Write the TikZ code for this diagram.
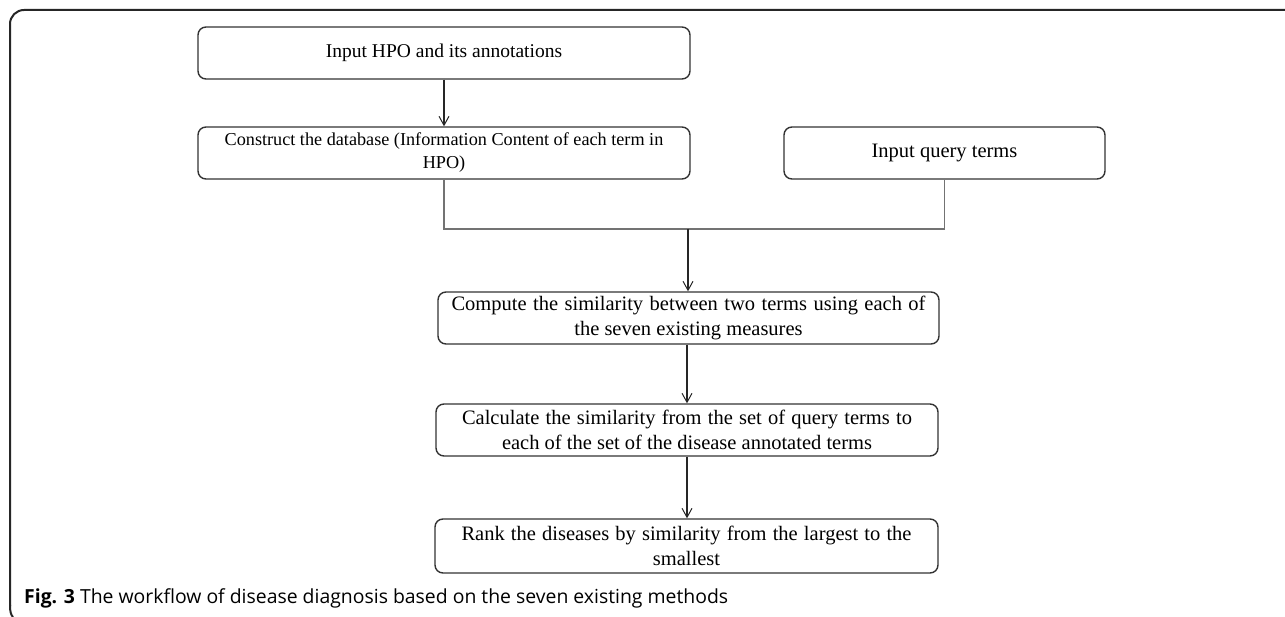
\documentclass[tikz,border=0pt]{standalone}
\usepackage{fontspec}
\setmainfont{Liberation Serif}
\newfontfamily\capfont{Open Sans}
\usetikzlibrary{arrows.meta,calc}
\begin{document}
\begin{tikzpicture}[x=1pt,y=-1pt,
  box/.style={draw=black!80,line width=1.4pt,rounded corners=8pt,align=center,
    inner sep=0pt,font=\fontsize{20.5}{25}\selectfont},
  arr/.style={draw=black!85,line width=1.2pt,-{Straight Barb[length=9pt,width=10pt,line width=1pt]}},
  link/.style={draw=black!55,line width=1.2pt}]
\useasboundingbox (0,0) rectangle (1285,617);
% outer frame
\draw[line width=2pt,black!85,rounded corners=14pt] (1285,10) -- (10,10) -- (10,606);
\draw[line width=2pt,black!85] (10,605) .. controls (10,612) and (11,615) .. (13,617);
% boxes
\node[box,minimum width=492pt,minimum height=52pt,font=\fontsize{19.5}{24}\selectfont] (b1) at (444,53) {Input HPO and its annotations};
\node[box,minimum width=492pt,minimum height=52pt,font=\fontsize{18.2}{23}\selectfont] (b2) at (444,153) {Construct the database (Information Content of each term in\\HPO)};
\node[box,minimum width=321pt,minimum height=52pt] (b3) at (944.5,153) {Input query terms};
\node[box,minimum width=501pt,minimum height=52pt] (b4) at (688.5,318) {\makebox[474pt][s]{Compute the similarity between two terms using each of}\\the seven existing measures};
\node[box,minimum width=502pt,minimum height=52pt] (b5) at (687,430) {\makebox[450pt][s]{Calculate the similarity from the set of query terms to}\\each of the set of the disease annotated terms};
\node[box,minimum width=503pt,minimum height=54pt] (b6) at (686.5,546) {\makebox[450pt][s]{Rank the diseases by similarity from the largest to the}\\smallest};
% helper coordinates
\coordinate (j) at (688,229);
\coordinate (xb) at (687,0);
% connectors
\draw[arr] (b1) -- (b2);
\draw[link] (b2.south) |- (j) -| (b3.south);
\draw[arr] (j) -- (b4.north -| j);
\draw[arr] (b4.south -| xb) -- (b5.north -| xb);
\draw[arr] (b5.south -| xb) -- (b6.north -| xb);
% caption
\node[anchor=base west,inner sep=0pt,font=\capfont\fontsize{19.4}{22}\selectfont] (cap) at (24,603)
  {\textbf{Fig. 3} The workflow of disease diagnosis based on the seven existing methods};
\end{tikzpicture}
\end{document}
